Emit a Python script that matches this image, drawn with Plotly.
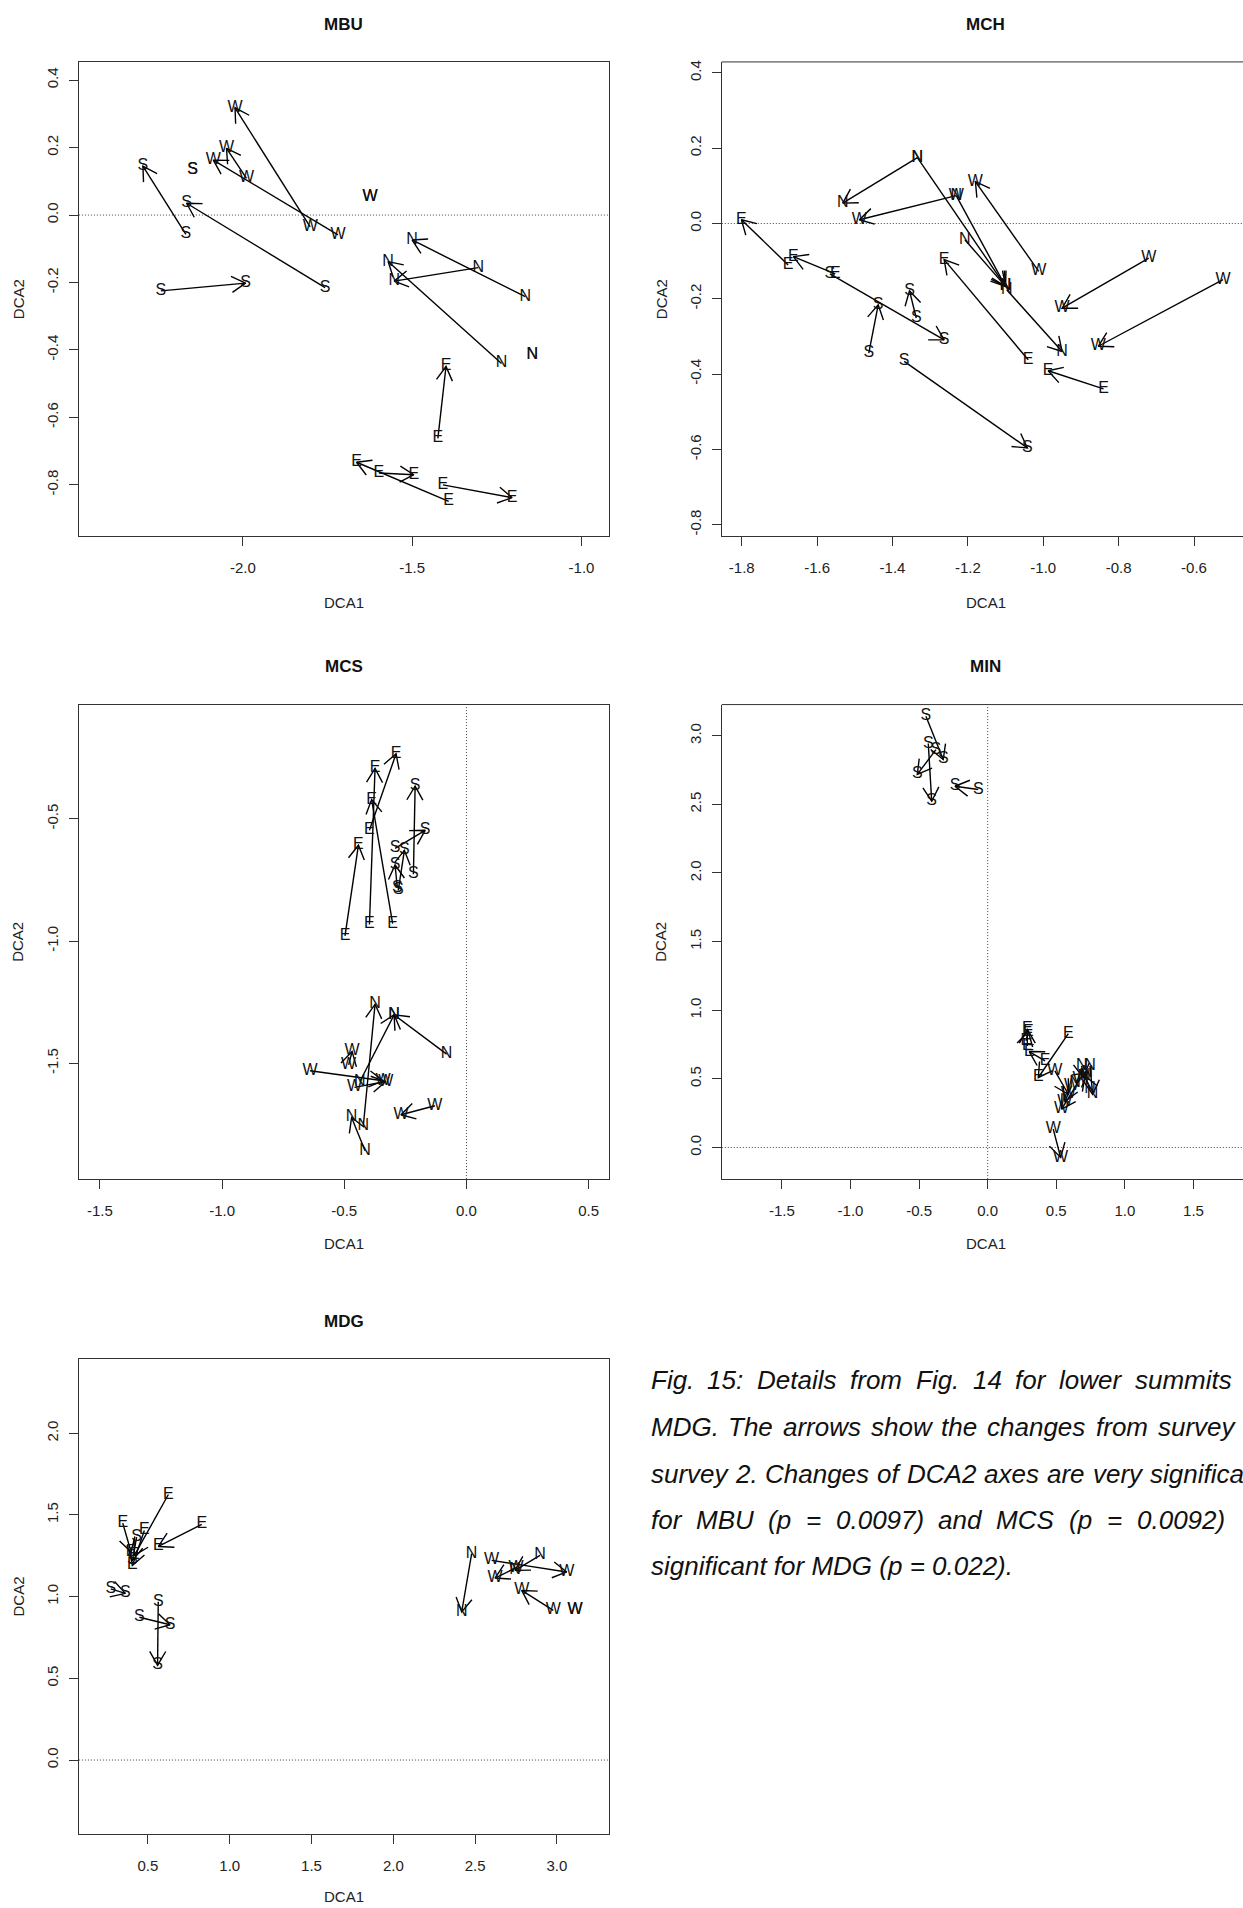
import math
import plotly.graph_objects as go

# ---------------------------------------------------------------------------
# DCA scores of the permanent plots, survey 1 (x1, y1) and survey 2 (x2, y2).
# One entry per plot; the label is the plot's exposition.
# ---------------------------------------------------------------------------

# MBU
MBU_ASPECT = ["S", "S", "S", "S", "W", "W", "W", "W",
              "N", "N", "N", "N", "E", "E", "E", "E"]
MBU_X1 = [-2.168, -1.757, -2.242, -2.148, -1.801, -1.719, -1.989, -1.624,
          -1.166, -1.305, -1.236, -1.145, -1.424, -1.392, -1.598, -1.409]
MBU_Y1 = [-0.057, -0.215, -0.225, 0.133, -0.035, -0.059, 0.109, 0.052,
          -0.242, -0.156, -0.440, -0.415, -0.662, -0.849, -0.765, -0.800]
MBU_X2 = [-2.295, -2.166, -1.992, -2.148, -2.023, -2.087, -2.048, -1.624,
          -1.500, -1.553, -1.571, -1.145, -1.400, -1.664, -1.495, -1.205]
MBU_Y2 = [0.145, 0.035, -0.202, 0.133, 0.318, 0.163, 0.198, 0.052,
          -0.074, -0.196, -0.138, -0.415, -0.449, -0.733, -0.770, -0.838]

# MCH
MCH_ASPECT = ["N", "N", "N", "N", "N", "W", "W", "W", "W",
              "E", "E", "E", "E", "S", "S", "S", "S"]
MCH_X1 = [-1.334, -1.334, -1.231, -1.208, -1.097, -1.012, -1.231, -0.720, -0.523,
          -1.677, -1.552, -1.040, -0.840, -1.566, -1.337, -1.463, -1.369]
MCH_Y1 = [0.175, 0.175, 0.074, -0.043, -0.176, -0.127, 0.074, -0.092, -0.149,
          -0.110, -0.134, -0.362, -0.439, -0.134, -0.251, -0.344, -0.366]
MCH_X2 = [-1.532, -1.100, -1.100, -1.100, -0.950, -1.180, -1.488, -0.950, -0.854,
          -1.801, -1.663, -1.263, -0.987, -1.263, -1.355, -1.438, -1.042]
MCH_Y2 = [0.054, -0.167, -0.167, -0.167, -0.340, 0.111, 0.010, -0.225, -0.326,
          0.010, -0.088, -0.096, -0.391, -0.309, -0.179, -0.216, -0.596]

# MCS
MCS_ASPECT = ["E", "E", "E", "E", "S", "S", "S", "S",
              "N", "N", "N", "N", "W", "W", "W", "W"]
MCS_X1 = [-0.497, -0.397, -0.302, -0.397, -0.217, -0.292, -0.279, -0.283,
          -0.081, -0.415, -0.422, -0.436, -0.640, -0.458, -0.482, -0.129]
MCS_Y1 = [-0.979, -0.932, -0.929, -0.547, -0.727, -0.621, -0.793, -0.782,
          -1.463, -1.858, -1.756, -1.575, -1.531, -1.599, -1.507, -1.674]
MCS_X2 = [-0.442, -0.374, -0.388, -0.288, -0.210, -0.169, -0.254, -0.292,
          -0.296, -0.470, -0.374, -0.296, -0.341, -0.330, -0.468, -0.268]
MCS_Y2 = [-0.608, -0.294, -0.421, -0.234, -0.366, -0.547, -0.629, -0.689,
          -1.302, -1.722, -1.259, -1.302, -1.572, -1.575, -1.452, -1.711]

# MIN
MIN_ASPECT = ["S", "S", "S", "S", "E", "E", "E", "E",
              "N", "N", "N", "N", "W", "W", "W", "W"]
MIN_X1 = [-0.450, -0.377, -0.433, -0.069, 0.588, 0.418, 0.289, 0.279,
          0.685, 0.746, 0.746, 0.636, 0.490, 0.673, 0.612, 0.478]
MIN_Y1 = [3.142, 2.899, 2.943, 2.608, 0.830, 0.631, 0.740, 0.777,
          0.595, 0.595, 0.425, 0.473, 0.558, 0.498, 0.449, 0.134]
MIN_X2 = [-0.324, -0.513, -0.408, -0.238, 0.369, 0.303, 0.289, 0.296,
          0.697, 0.765, 0.709, 0.726, 0.588, 0.539, 0.563, 0.532]
MIN_Y2 = [2.827, 2.718, 2.523, 2.632, 0.510, 0.699, 0.861, 0.844,
          0.510, 0.388, 0.522, 0.546, 0.388, 0.279, 0.335, -0.073]

# MDG
MDG_ASPECT = ["S", "S", "S", "S", "E", "E", "E", "E",
              "N", "N", "W", "W", "W", "W"]
MDG_X1 = [0.273, 0.448, 0.563, 0.431, 0.829, 0.625, 0.346, 0.478,
          2.479, 2.897, 2.601, 2.750, 2.978, 3.111]
MDG_Y1 = [1.048, 0.874, 0.968, 1.364, 1.442, 1.625, 1.450, 1.405,
          1.263, 1.252, 1.222, 1.177, 0.916, 0.916]
MDG_X2 = [0.362, 0.635, 0.559, 0.405, 0.564, 0.417, 0.397, 0.405,
          2.418, 2.744, 3.060, 2.622, 2.785, 3.111]
MDG_Y2 = [1.020, 0.828, 0.580, 1.222, 1.307, 1.252, 1.273, 1.191,
          0.906, 1.161, 1.151, 1.114, 1.038, 0.916]

# Axis ticks
MBU_XTICKS = [-2.0, -1.5, -1.0]
MBU_YTICKS = [0.4, 0.2, 0.0, -0.2, -0.4, -0.6, -0.8]
MCH_XTICKS = [-1.8, -1.6, -1.4, -1.2, -1.0, -0.8, -0.6]
MCH_YTICKS = [0.4, 0.2, 0.0, -0.2, -0.4, -0.6, -0.8]
MCS_XTICKS = [-1.5, -1.0, -0.5, 0.0, 0.5]
MCS_YTICKS = [-0.5, -1.0, -1.5]
MIN_XTICKS = [-1.5, -1.0, -0.5, 0.0, 0.5, 1.0, 1.5]
MIN_YTICKS = [0.0, 0.5, 1.0, 1.5, 2.0, 2.5, 3.0]
MDG_XTICKS = [0.5, 1.0, 1.5, 2.0, 2.5, 3.0]
MDG_YTICKS = [0.0, 0.5, 1.0, 1.5, 2.0]

CAPTION = [
    ["Fig.", "15:", "Details", "from", "Fig.", "14", "for", "lower", "summits"],
    ["MDG.", "The", "arrows", "show", "the", "changes", "from", "survey"],
    ["survey", "2.", "Changes", "of", "DCA2", "axes", "are", "very", "significant"],
    ["for", "MBU", "(p", "=", "0.0097)", "and", "MCS", "(p", "=", "0.0092)"],
    ["significant for MDG (p = 0.022)."],
]

# ---------------------------------------------------------------------------
# Page geometry (pixels) and plotting styles
# ---------------------------------------------------------------------------
W, H = 1243, 1908
FONT = "Liberation Sans, Arial, Helvetica, sans-serif"
HEAD_LEN = 16.0          # arrow head length, px
HEAD_ANG = math.radians(30)

PANELS = [
    dict(name="MBU", data=(MBU_ASPECT, MBU_X1, MBU_Y1, MBU_X2, MBU_Y2),
         px=(78.9, 608.9, 60.0, 535.0), xr=(-2.484, -0.919), yr=(-0.953, 0.454),
         xt=MBU_XTICKS, yt=MBU_YTICKS, h0=True, v0=False, cut=False,
         title_y=23, xlab_y=601, ylab_x=18),
    dict(name="MCH", data=(MCH_ASPECT, MCH_X1, MCH_Y1, MCH_X2, MCH_Y2),
         px=(721.8, 1243.0, 60.0, 535.0), xr=(-1.853, -0.470), yr=(-0.831, 0.429),
         xt=MCH_XTICKS, yt=MCH_YTICKS, h0=True, v0=False, cut=True,
         title_y=23, xlab_y=601, ylab_x=661),
    dict(name="MCS", data=(MCS_ASPECT, MCS_X1, MCS_Y1, MCS_X2, MCS_Y2),
         px=(78.9, 608.9, 703.3, 1178.3), xr=(-1.586, 0.583), yr=(-1.974, -0.0325),
         xt=MCS_XTICKS, yt=MCS_YTICKS, h0=False, v0=True, cut=False,
         title_y=665, xlab_y=1243, ylab_x=18),
    dict(name="MIN", data=(MIN_ASPECT, MIN_X1, MIN_Y1, MIN_X2, MIN_Y2),
         px=(721.8, 1243.0, 703.3, 1178.3), xr=(-1.938, 1.861), yr=(-0.230, 3.227),
         xt=MIN_XTICKS, yt=MIN_YTICKS, h0=True, v0=True, cut=True,
         title_y=665, xlab_y=1243, ylab_x=661),
    dict(name="MDG", data=(MDG_ASPECT, MDG_X1, MDG_Y1, MDG_X2, MDG_Y2),
         px=(78.9, 608.9, 1358.8, 1833.5), xr=(0.078, 3.318), yr=(-0.450, 2.452),
         xt=MDG_XTICKS, yt=MDG_YTICKS, h0=True, v0=False, cut=False,
         title_y=1321, xlab_y=1896, ylab_x=18),
]

# caption block: left edge, start of the last visible word of each justified
# line, and the line centres
CAP_SIZE = 26
CAP_LEFT = 648.5
CAP_LAST_X = [1133.0, 1155.5, 1147.7, 1134.5, None]
CAP_Y = [1379.5, 1426.5, 1474.0, 1519.5, 1565.5]

# Arial / Liberation Sans advance widths (1/1000 em) used to justify lines
ADV = {" ": 278, ".": 278, ":": 278, "(": 333, ")": 333, "=": 584,
       "A": 667, "B": 667, "C": 722, "D": 722, "F": 611, "G": 778,
       "M": 833, "S": 667, "T": 611, "U": 722,
       "a": 556, "b": 556, "c": 500, "d": 556, "e": 556, "f": 278, "g": 556,
       "h": 556, "i": 222, "l": 222, "m": 833, "n": 556, "o": 556, "p": 556,
       "r": 333, "s": 500, "t": 278, "u": 556, "v": 500, "w": 722, "x": 500,
       "y": 500}


def text_width(s, size):
    return sum(ADV.get(ch, 556) for ch in s) * size / 1000.0


def px2paper_x(p):
    return p / W


def px2paper_y(p):
    return 1.0 - p / H


def fmt(v):
    return "%.1f" % v


fig = go.Figure()
shapes = []
annotations = []

for i, pn in enumerate(PANELS, start=1):
    sfx = "" if i == 1 else str(i)
    xref, yref = "x" + sfx, "y" + sfx
    aspect, x1, y1, x2, y2 = pn["data"]
    l, r, t, b = pn["px"]
    kx = (r - l) / (pn["xr"][1] - pn["xr"][0])
    ky = (b - t) / (pn["yr"][1] - pn["yr"][0])

    # arrows: shaft from survey 1 to survey 2 plus an open head
    lx, ly = [], []
    for a, b1, c, d in zip(x1, y1, x2, y2):
        dxp, dyp = (c - a) * kx, (d - b1) * ky
        if math.hypot(dxp, dyp) < 1e-6:
            continue
        ang = math.atan2(dyp, dxp)
        lx += [a, c, None]
        ly += [b1, d, None]
        hx1 = c - HEAD_LEN * math.cos(ang + HEAD_ANG) / kx
        hy1 = d - HEAD_LEN * math.sin(ang + HEAD_ANG) / ky
        hx2 = c - HEAD_LEN * math.cos(ang - HEAD_ANG) / kx
        hy2 = d - HEAD_LEN * math.sin(ang - HEAD_ANG) / ky
        lx += [hx1, c, hx2, None]
        ly += [hy1, d, hy2, None]

    fig.add_trace(go.Scatter(
        x=lx, y=ly, mode="lines", xaxis=xref, yaxis=yref,
        line=dict(color="black", width=1.4), hoverinfo="skip", showlegend=False))

    fig.add_trace(go.Scatter(
        x=list(x1) + list(x2), y=list(y1) + list(y2),
        text=list(aspect) + list(aspect), mode="text",
        textposition="middle center", xaxis=xref, yaxis=yref,
        textfont=dict(family=FONT, size=16, color="#111111"),
        hoverinfo="skip", showlegend=False))

    axis_common = dict(
        showgrid=False, zeroline=False, ticks="outside", ticklen=9,
        tickwidth=1, tickcolor="#333333", showline=True, linecolor="#333333",
        linewidth=1, tickfont=dict(family=FONT, size=15, color="#222222"),
        fixedrange=True)

    fig.layout["xaxis" + sfx] = dict(
        axis_common, domain=[px2paper_x(l), px2paper_x(r)], range=list(pn["xr"]),
        anchor=yref, tickmode="array", tickvals=pn["xt"],
        ticktext=[fmt(v) for v in pn["xt"]], mirror=not pn["cut"],
        ticklabelstandoff=9)
    fig.layout["yaxis" + sfx] = dict(
        axis_common, domain=[px2paper_y(b), px2paper_y(t)], range=list(pn["yr"]),
        anchor=xref, tickmode="array", tickvals=pn["yt"],
        ticktext=[fmt(v) for v in pn["yt"]], tickangle=-90,
        mirror=not pn["cut"], ticklabelstandoff=5)

    if pn["cut"]:
        # top edge of the box for panels running off the page
        shapes.append(dict(type="line", xref=xref + " domain", yref=yref + " domain",
                           x0=0, x1=1, y0=1, y1=1,
                           line=dict(color="#333333", width=1)))

    dot = dict(color="#444444", width=1, dash="1px,2px")
    if pn["h0"]:
        shapes.append(dict(type="line", xref=xref + " domain", yref=yref,
                           x0=0, x1=1, y0=0, y1=0, line=dot, layer="below"))
    if pn["v0"]:
        shapes.append(dict(type="line", xref=xref, yref=yref + " domain",
                           x0=0, x1=0, y0=0, y1=1, line=dot, layer="below"))

    cx = (l + (1250.0 if pn["cut"] else r)) / 2.0
    annotations.append(dict(
        text="<b>%s</b>" % pn["name"], x=px2paper_x(cx), y=px2paper_y(pn["title_y"]),
        xref="paper", yref="paper", showarrow=False, xanchor="center",
        yanchor="middle", font=dict(family=FONT, size=17, color="#111111")))
    annotations.append(dict(
        text="DCA1", x=px2paper_x(cx), y=px2paper_y(pn["xlab_y"]),
        xref="paper", yref="paper", showarrow=False, xanchor="center",
        yanchor="middle", font=dict(family=FONT, size=15, color="#222222")))
    annotations.append(dict(
        text="DCA2", x=px2paper_x(pn["ylab_x"]), y=px2paper_y((t + b) / 2.0),
        xref="paper", yref="paper", showarrow=False, xanchor="center",
        yanchor="middle", textangle=-90,
        font=dict(family=FONT, size=15, color="#222222")))

# figure caption, justified word by word (equal gaps between words)
for words, last_x, yc in zip(CAPTION, CAP_LAST_X, CAP_Y):
    if last_x is None or len(words) < 2:
        xs = [CAP_LEFT]
    else:
        widths = [text_width(wd, CAP_SIZE) for wd in words[:-1]]
        gap = (last_x - CAP_LEFT - sum(widths)) / (len(words) - 1)
        xs, pos = [], CAP_LEFT
        for wdt in widths:
            xs.append(pos)
            pos += wdt + gap
        xs.append(last_x)
    for wd, xp in zip(words, xs):
        annotations.append(dict(
            text="<i>%s</i>" % wd, x=px2paper_x(xp), y=px2paper_y(yc),
            xref="paper", yref="paper", showarrow=False, xanchor="left",
            yanchor="middle", font=dict(family=FONT, size=CAP_SIZE, color="#111111")))

fig.update_layout(
    width=W, height=H, margin=dict(l=0, r=0, t=0, b=0),
    paper_bgcolor="white", plot_bgcolor="white",
    shapes=shapes, annotations=annotations, showlegend=False)

fig.write_html("out.html", config={"displayModeBar": False})
